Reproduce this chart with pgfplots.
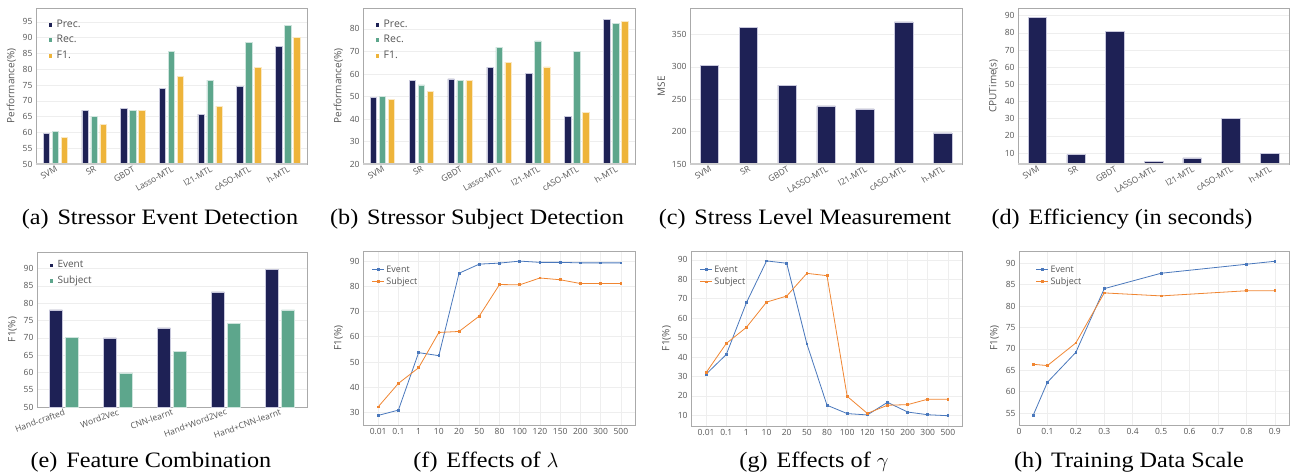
\documentclass[border=0pt]{standalone}
\usepackage{pgfplots}
\pgfplotsset{compat=1.18}
\usepackage{fontspec}
\setmainfont{Liberation Serif}
\newfontfamily\capfont[FakeStretch=1.1]{Liberation Serif}
\newfontfamily\osans{Open Sans}
\definecolor{navy}{HTML}{1E2155}
\definecolor{tealc}{HTML}{5DA68C}
\definecolor{gold}{HTML}{EEB43A}
\definecolor{evblue}{HTML}{4A78BC}
\definecolor{suborange}{HTML}{F08632}
\definecolor{tickgray}{HTML}{555555}
\definecolor{gridc}{HTML}{EEEEEE}
\definecolor{framec}{HTML}{AAAAAA}
\definecolor{baredge}{HTML}{C8C8DC}
\pgfplotsset{
  base/.style={scale only axis, anchor=north west,
    axis line style={framec, line width=0.8pt},
    major tick length=0pt, tick style={draw=none},
    ticklabel style={font=\osans\fontsize{8.5}{10}\selectfont, text=tickgray},
    /pgf/number format/assume math mode=true,
    label style={font=\osans\fontsize{10}{12}\selectfont, text=tickgray},
    ymajorgrids, grid style={gridc, line width=0.6pt},
    legend cell align=left,
    legend style={draw=none, fill=none, anchor=north west, row sep=2.5pt,
      font=\osans\fontsize{10.5}{12}\selectfont, text=tickgray},
  },
  barbase/.style={base, xtick={0,...,6}, xmin=-0.5, xmax=6.5,
    xticklabel style={anchor=north east, inner sep=1pt},
  },
  linebase/.style={base, xmajorgrids,
    legend style={font=\osans\fontsize{9}{11}\selectfont, row sep=0pt},
    legend image code/.code={\draw[mark repeat=2, mark phase=2, ##1] plot coordinates {(0pt,0pt)(6pt,0pt)(12pt,0pt)};},
  },
  barE/.style={ybar, forget plot, fill=navy, draw=baredge, line width=0.5pt},
  barR/.style={ybar, forget plot, fill=tealc, draw=white!70!tealc, line width=0.5pt},
  barF/.style={ybar, forget plot, fill=gold, draw=white!70!gold, line width=0.5pt},
  sqm/.style={legend image code/.code={\fill[#1] (0pt,-1.3pt) rectangle (2.6pt,1.3pt); \path (0pt,0pt) (5.5pt,0pt);}},
  lineE/.style={evblue, line width=0.8pt, mark=square*, mark size=0.9pt},
  lineS/.style={suborange, line width=0.8pt, mark=square*, mark size=0.9pt},
}
\newcommand{\subcap}[3]{\node[anchor=base, font=\capfont\fontsize{22}{26}\selectfont] at (#1pt,#2pt) {#3};}
\begin{document}
\begin{tikzpicture}
\useasboundingbox (0pt,0pt) rectangle (1292pt,-475pt);

% (a)
\begin{axis}[barbase, at={(36pt,-8pt)}, width=271pt, height=156pt,
  ymin=50, ymax=99.4, ytick={50,55,...,95},
  xticklabels={SVM,SR,GBDT,Lasso-MTL,l21-MTL,cASO-MTL,h-MTL},
  xticklabel style={rotate=30},
  ylabel={Performance(\%)}, bar width=6.5pt,
  legend style={at={(0.035,0.95)}}]
\addplot[barE, bar shift=-9pt] coordinates {(0,59.7)(1,67.1)(2,67.7)(3,73.9)(4,65.8)(5,74.7)(6,87.2)};
\addplot[barR, bar shift=0pt] coordinates {(0,60.3)(1,65.1)(2,67.0)(3,85.6)(4,76.6)(5,88.5)(6,93.8)};
\addplot[barF, bar shift=9pt] coordinates {(0,58.5)(1,62.5)(2,67.0)(3,77.7)(4,68.3)(5,80.6)(6,90.0)};
\addlegendimage{sqm=navy}\addlegendimage{sqm=tealc}\addlegendimage{sqm=gold}
\legend{Prec.,Rec.,F1.}
\draw[black!20, line width=1.5pt] (rel axis cs:0,0) -- (rel axis cs:1,0);
\end{axis}

% (b)
\begin{axis}[barbase, at={(363pt,-8pt)}, width=272pt, height=156pt,
  ymin=20, ymax=89.3, ytick={20,30,...,80},
  xticklabels={SVM,SR,GBDT,Lasso-MTL,l21-MTL,cASO-MTL,h-MTL},
  xticklabel style={rotate=30},
  ylabel={Performance(\%)}, bar width=6.5pt,
  legend style={at={(0.035,0.95)}}]
\addplot[barE, bar shift=-9pt] coordinates {(0,49.6)(1,57.2)(2,57.8)(3,63.0)(4,60.1)(5,41.2)(6,84.1)};
\addplot[barR, bar shift=0pt] coordinates {(0,50.2)(1,55.1)(2,57.0)(3,71.9)(4,74.7)(5,70.1)(6,82.4)};
\addplot[barF, bar shift=9pt] coordinates {(0,48.6)(1,52.4)(2,57.0)(3,65.3)(4,63.1)(5,42.8)(6,83.3)};
\addlegendimage{sqm=navy}\addlegendimage{sqm=tealc}\addlegendimage{sqm=gold}
\legend{Prec.,Rec.,F1.}
\draw[black!20, line width=1.5pt] (rel axis cs:0,0) -- (rel axis cs:1,0);
\end{axis}

% (c)
\begin{axis}[barbase, at={(690pt,-8pt)}, width=272pt, height=156pt,
  ymin=150, ymax=391, ytick={150,200,...,350},
  xticklabels={SVM,SR,GBDT,LASSO-MTL,l21-MTL,cASO-MTL,h-MTL},
  xticklabel style={rotate=30},
  ylabel={MSE}, bar width=18.5pt]
\addplot[barE, bar shift=0pt] coordinates {(0,302.6)(1,361)(2,272)(3,239.7)(4,235)(5,369.6)(6,198)};
\draw[black!20, line width=1.5pt] (rel axis cs:0,0) -- (rel axis cs:1,0);
\end{axis}

% (d)
\begin{axis}[barbase, at={(1018pt,-8pt)}, width=271pt, height=156pt,
  ymin=3.6, ymax=94.5, ytick={10,20,...,90},
  xticklabels={SVM,SR,GBDT,LASSO-MTL,l21-MTL,cASO-MTL,h-MTL},
  xticklabel style={rotate=30},
  ylabel={CPUTime(s)}, bar width=18.5pt]
\addplot[barE, bar shift=0pt] coordinates {(0,89.2)(1,9.0)(2,81.1)(3,4.95)(4,7.1)(5,30)(6,10)};
\draw[black!20, line width=1.5pt] (rel axis cs:0,0) -- (rel axis cs:1,0);
\end{axis}

% (e)
\begin{axis}[barbase, at={(37pt,-252pt)}, width=270pt, height=155pt,
  xmin=-0.5, xmax=4.5, xtick={0,...,4},
  ymin=50, ymax=94.8, ytick={50,55,...,90},
  xticklabels={Hand-crafted,Word2Vec,CNN-learnt,Hand+Word2Vec,Hand+CNN-learnt},
  xticklabel style={rotate=20},
  ylabel={F1(\%)}, bar width=13pt,
  legend style={at={(0.035,0.97)}, font=\osans\fontsize{10}{11}\selectfont}]
\addplot[barE, bar shift=-8.2pt] coordinates {(0,78.1)(1,70.0)(2,72.9)(3,83.3)(4,89.7)};
\addplot[barR, bar shift=8.2pt] coordinates {(0,70.2)(1,59.9)(2,66.1)(3,74.1)(4,78.1)};
\addlegendimage{sqm=navy}\addlegendimage{sqm=tealc}
\legend{Event,Subject}
\end{axis}

% (f)
\begin{axis}[linebase, at={(363pt,-251pt)}, width=272pt, height=174pt,
  xmin=-0.75, xmax=12.7, xtick={0,...,12},
  xticklabels={0.01,0.1,1,10,20,50,80,100,120,150,200,300,500},
  ymin=25, ymax=94, ytick={30,40,...,90},
  ylabel={F1(\%)}, legend style={at={(0.02,0.94)}}]
\addplot[lineE] coordinates {(0,28.8)(1,30.9)(2,53.7)(3,52.5)(4,85.2)(5,88.8)(6,89.2)(7,90.0)(8,89.5)(9,89.5)(10,89.3)(11,89.3)(12,89.3)};
\addplot[lineS] coordinates {(0,32.2)(1,41.5)(2,47.7)(3,61.7)(4,62.1)(5,68.2)(6,80.7)(7,80.6)(8,83.3)(9,82.6)(10,81.1)(11,81.1)(12,81.1)};
\legend{Event,Subject}
\end{axis}

% (g)
\begin{axis}[linebase, at={(691pt,-251pt)}, width=271pt, height=175pt,
  xmin=-0.75, xmax=12.7, xtick={0,...,12},
  xticklabels={0.01,0.1,1,10,20,50,80,100,120,150,200,300,500},
  ymin=4.5, ymax=94.6, ytick={10,20,...,90},
  ylabel={F1(\%)}, legend style={at={(0.02,0.94)}}]
\addplot[lineE] coordinates {(0,31.2)(1,41.3)(2,68.0)(3,89.5)(4,88.3)(5,46.8)(6,15.2)(7,10.9)(8,10.2)(9,16.7)(10,11.7)(11,10.3)(12,9.8)};
\addplot[lineS] coordinates {(0,32.0)(1,47.0)(2,55.3)(3,68.3)(4,71.4)(5,83.1)(6,81.9)(7,19.8)(8,11.0)(9,15.2)(10,15.5)(11,18.3)(12,18.3)};
\legend{Event,Subject}
\end{axis}

% (h)
\begin{axis}[linebase, at={(1019pt,-251pt)}, width=270pt, height=174pt,
  xmin=0, xmax=0.95, xtick={0,0.1,0.2,0.3,0.4,0.5,0.6,0.7,0.8,0.9},
  xticklabels={0,0.1,0.2,0.3,0.4,0.5,0.6,0.7,0.8,0.9},
  ymin=52.2, ymax=92.9, ytick={55,60,...,90},
  ylabel={F1(\%)}, legend style={at={(0.05,0.94)}}]
\addplot[lineE] coordinates {(0.05,54.5)(0.1,62.2)(0.2,69.2)(0.3,84.1)(0.5,87.7)(0.8,89.8)(0.9,90.5)};
\addplot[lineS] coordinates {(0.05,66.4)(0.1,66.1)(0.2,71.4)(0.3,83.1)(0.5,82.4)(0.8,83.6)(0.9,83.6)};
\legend{Event,Subject}
\end{axis}

\subcap{160}{-224}{(a)\hspace{0.4em}Stressor Event Detection}
\subcap{477}{-224}{(b)\hspace{0.4em}Stressor Subject Detection}
\subcap{805}{-224}{(c)\hspace{0.4em}Stress Level Measurement}
\subcap{1122}{-224}{(d)\hspace{0.4em}Efficiency (in seconds)}
\subcap{151}{-467}{(e)\hspace{0.4em}Feature Combination}
\subcap{486}{-467}{(f)\hspace{0.4em}Effects of $\lambda$}
\subcap{814}{-467}{(g)\hspace{0.4em}Effects of $\gamma$}
\subcap{1129}{-467}{(h)\hspace{0.4em}Training Data Scale}
\end{tikzpicture}
\end{document}
